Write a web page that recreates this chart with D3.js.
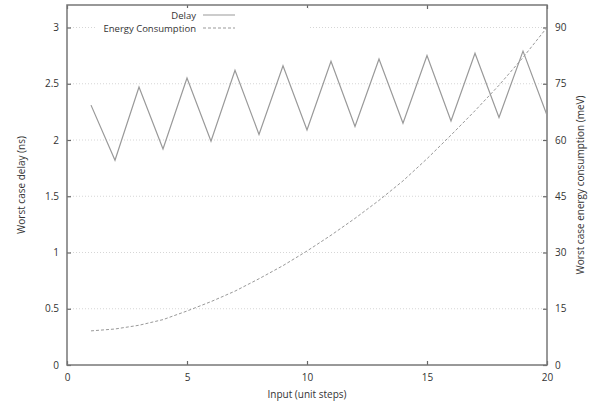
<!DOCTYPE html>
<html lang="en">
<head>
<meta charset="utf-8">
<script src="https://d3js.org/d3.v7.min.js"></script>
<style>
  body { margin: 0; background: #fff; }
  text { font-family: "Open Sans", "Noto Sans", sans-serif; fill: #333; }
</style>
</head>
<body>
<div id="chart"></div>
<script>
// input steps
var steps = [1, 2, 3, 4, 5, 6, 7, 8, 9, 10, 11, 12, 13, 14, 15, 16, 17, 18, 19, 20];
// worst case delay (ns)
var delay = [2.31, 1.82, 2.47, 1.92, 2.55, 1.99, 2.62, 2.05, 2.66, 2.09, 2.70, 2.12, 2.72, 2.15, 2.75, 2.17, 2.77, 2.20, 2.79, 2.22];
// worst case energy consumption (meV)
var energy = [9.1, 9.6, 10.6, 12.1, 14.4, 16.9, 19.7, 23.0, 26.5, 30.4, 34.6, 39.1, 43.9, 49.1, 55.0, 61.3, 67.8, 74.6, 82.0, 90.0];
var xTicks = [0, 5, 10, 15, 20];
var delayTicks = [0, 0.5, 1, 1.5, 2, 2.5, 3];
var energyTicks = [0, 15, 30, 45, 60, 75, 90];

var W = 592, H = 405;
var margin = {top: 5, right: 45, bottom: 40, left: 67};
var width = W - margin.left - margin.right,
    height = H - margin.top - margin.bottom;

var svg = d3.select("#chart").append("svg")
    .attr("width", W).attr("height", H);
var g = svg.append("g")
    .attr("transform", "translate(" + margin.left + "," + margin.top + ")");

var x = d3.scaleLinear().domain([0, 20]).range([0, width]);
var y = d3.scaleLinear().domain([0, 3.2]).range([height, 0]);
var y2 = d3.scaleLinear().domain([0, 96]).range([height, 0]);

// dotted grid
g.selectAll(".grid").data(delayTicks.slice(1)).enter().append("line")
    .attr("x1", 0).attr("x2", width)
    .attr("y1", function(d) { return y(d); }).attr("y2", function(d) { return y(d); })
    .attr("stroke", "#ccc").attr("stroke-width", 0.8)
    .attr("stroke-dasharray", "1,2");

function styleAxis(a) {
    a.select(".domain").remove();
    a.selectAll("line").attr("stroke", "#666").attr("stroke-width", 1.2);
    a.selectAll("text").style("font-size", "10px").attr("fill", "#333");
}

var fmt = function(d) { return String(d); };

var xAxis = g.append("g").attr("transform", "translate(0," + height + ")")
    .call(d3.axisBottom(x).tickValues(xTicks).tickSize(-4).tickPadding(9).tickFormat(fmt));
styleAxis(xAxis);
var xTop = g.append("g")
    .call(d3.axisTop(x).tickValues(xTicks).tickSize(-4).tickFormat(""));
styleAxis(xTop);

var yAxis = g.append("g")
    .call(d3.axisLeft(y).tickValues(delayTicks).tickSize(-4).tickPadding(8).tickFormat(fmt));
styleAxis(yAxis);
var yAxis2 = g.append("g").attr("transform", "translate(" + width + ",0)")
    .call(d3.axisRight(y2).tickValues(energyTicks).tickSize(-4).tickPadding(8).tickFormat(fmt));
styleAxis(yAxis2);

// frame
g.append("rect").attr("width", width).attr("height", height)
    .attr("fill", "none").attr("stroke", "#777").attr("stroke-width", 1.5);

var line = d3.line().x(function(d) { return x(d[0]); });

g.append("path")
    .datum(d3.zip(steps, energy))
    .attr("d", line.y(function(d) { return y2(d[1]); }))
    .attr("fill", "none").attr("stroke", "#999").attr("stroke-width", 1)
    .attr("stroke-dasharray", "3,2");

g.append("path")
    .datum(d3.zip(steps, delay))
    .attr("d", line.y(function(d) { return y(d[1]); }))
    .attr("fill", "none").attr("stroke", "#999").attr("stroke-width", 1.2);

// legend
var legend = g.append("g").attr("transform", "translate(129,10)");
legend.append("rect").attr("x", -100).attr("y", -7).attr("width", 212).attr("height", 26)
    .attr("fill", "#fff");
var items = [["Delay", null], ["Energy Consumption", "3,2"]];
items.forEach(function(it, i) {
    legend.append("text").attr("x", 0).attr("y", i * 13 + 3.5)
        .attr("text-anchor", "end").style("font-size", "9.5px").text(it[0]);
    legend.append("line").attr("x1", 7).attr("x2", 39)
        .attr("y1", i * 13).attr("y2", i * 13)
        .attr("stroke", "#999").attr("stroke-width", 1)
        .attr("stroke-dasharray", it[1]);
});

// axis titles
svg.append("text").attr("x", margin.left + width / 2).attr("y", H - 7)
    .attr("text-anchor", "middle").style("font-size", "10px").text("Input (unit steps)");
svg.append("text").attr("transform", "translate(25," + (margin.top + height / 2) + ") rotate(-90)")
    .attr("text-anchor", "middle").style("font-size", "10px").text("Worst case delay (ns)");
svg.append("text").attr("transform", "translate(584," + (margin.top + height / 2) + ") rotate(-90)")
    .attr("text-anchor", "middle").style("font-size", "10px").text("Worst case energy consumption (meV)");
</script>
</body>
</html>
